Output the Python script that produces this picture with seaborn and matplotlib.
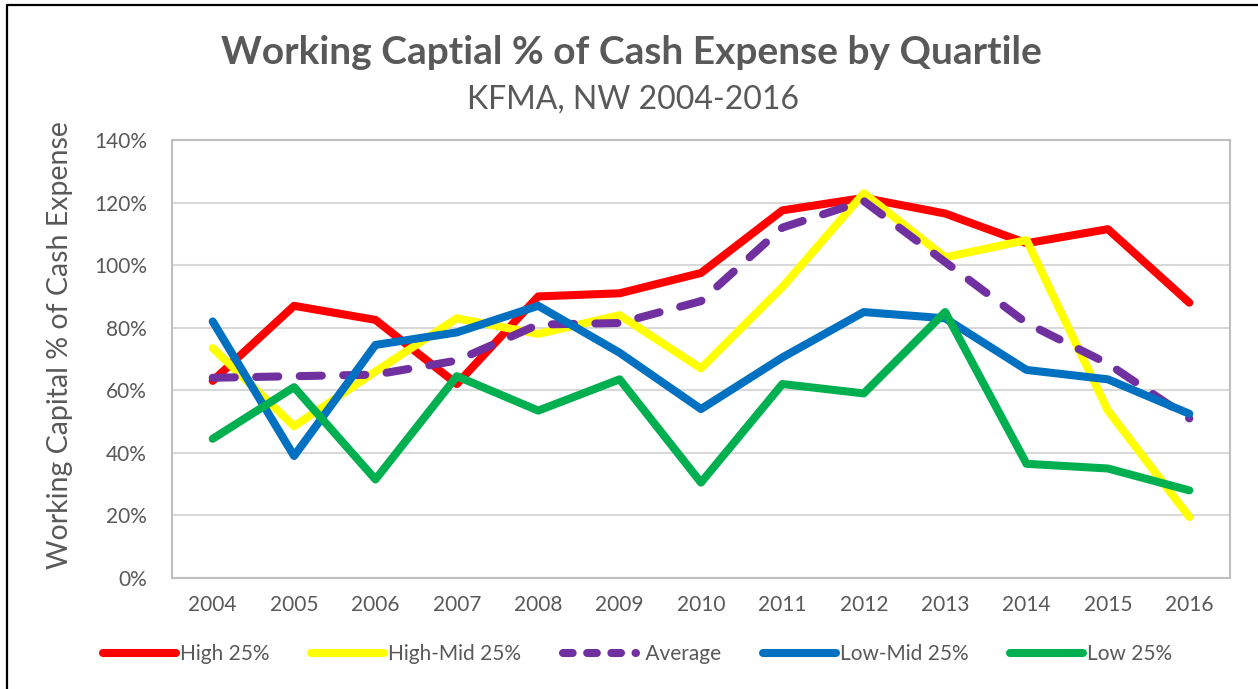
#modules
import pandas as pd
import numpy as np
import matplotlib
matplotlib.use("Agg")
import matplotlib.pyplot as plt
import seaborn as sns
from matplotlib.lines import Line2D
from matplotlib.ticker import PercentFormatter

#data (percent)
years = [2004, 2005, 2006, 2007, 2008, 2009, 2010, 2011, 2012, 2013, 2014, 2015, 2016]
series_names = ["High 25%", "High-Mid 25%", "Average", "Low-Mid 25%", "Low 25%"]
high = [63, 87, 82.5, 62, 90, 91, 97.5, 117.5, 121.5, 116.5, 107, 111.5, 88]
high_mid = [73.5, 48.5, 66, 83, 78, 84, 67, 93, 123, 102.5, 108, 53.5, 19.5]
average = [64, 64.5, 65, 69.5, 81, 81.5, 88.5, 112, 120.5, 101, 81.5, 68.5, 51]
low_mid = [82, 39, 74.5, 78.5, 87, 72, 54, 70.5, 85, 83, 66.5, 63.5, 52.5]
low = [44.5, 61, 31.5, 64.5, 53.5, 63.5, 30.5, 62, 59, 85, 36.5, 35, 28]

colors = ["#FF0000", "#FFFF00", "#7030A0", "#0070C0", "#00B050"]
text_col = "#595959"

df = pd.DataFrame({
    "Year": years * 5,
    "Value": high + high_mid + average + low_mid + low,
    "Series": np.repeat(series_names, len(years)),
})

sns.set_style("white")
plt.rcParams["font.family"] = ["Lato", "DejaVu Sans"]

fig = plt.figure(figsize=(12.58, 6.89), dpi=100)
ax = fig.add_axes([172 / 1258, 1 - 578 / 689, (1230 - 172) / 1258, (578 - 140) / 689])

lw = 5.8
dashes = {n: "" for n in series_names}
dashes["Average"] = (2.75, 2.65)
sns.lineplot(data=df, x="Year", y="Value", hue="Series", style="Series",
             hue_order=series_names, style_order=series_names,
             palette=colors, dashes=dashes, linewidth=lw, ax=ax, legend=False,
             solid_capstyle="round", dash_capstyle="round")

ax.set_xlim(2003.5, 2016.5)
ax.set_ylim(0, 140)
ax.set_xticks(years)
ax.set_xticklabels([str(y) for y in years])
ax.set_yticks(np.arange(0, 141, 20))
ax.yaxis.set_major_formatter(PercentFormatter(decimals=0))
ax.grid(axis="y", color="#D9D9D9", linewidth=1.5)
ax.set_axisbelow(True)
for s in ax.spines.values():
    s.set_color("#BFBFBF")
    s.set_linewidth(1.5)
ax.tick_params(axis="both", length=0, labelsize=15, colors=text_col)
ax.tick_params(axis="x", pad=12)
ax.tick_params(axis="y", pad=18)
ax.set_xlabel("")
ax.set_ylabel("Working Capital % of Cash Expense", fontsize=20.5, color=text_col, va="center")
ax.yaxis.set_label_coords((60 - 172) / 1058, (578 - 345) / 438)

fig.text(0.502, 1 - 52 / 689, "Working Captial % of Cash Expense by Quartile",
         ha="center", va="center", fontsize=28, fontweight="bold", color=text_col)
fig.text(0.503, 1 - 100 / 689, "KFMA, NW 2004-2016",
         ha="center", va="center", fontsize=23, color=text_col)

#legend
handles = []
for n, c in zip(series_names, colors):
    h = Line2D([], [], color=c, linewidth=lw, solid_capstyle="round", dash_capstyle="round")
    if n == "Average":
        h.set_linestyle((0, (1.2, 1.8)))
    handles.append(h)
labels = [" " + n if n == "Average" else n for n in series_names]
leg = fig.legend(handles, labels, loc="center", bbox_to_anchor=(0.507, 1 - 654 / 689),
                 ncol=5, frameon=False, fontsize=15, handlelength=3.5,
                 handletextpad=0.2, columnspacing=2.0)
for t in leg.get_texts():
    t.set_color(text_col)

#outer border (left and top only)
fig.add_artist(Line2D([7 / 1258, 7 / 1258], [0, 1 - 5 / 689], color="black", linewidth=1.6))
fig.add_artist(Line2D([7 / 1258, 1], [1 - 5 / 689, 1 - 5 / 689], color="black", linewidth=1.6))

fig.savefig("out.png", dpi=100)
